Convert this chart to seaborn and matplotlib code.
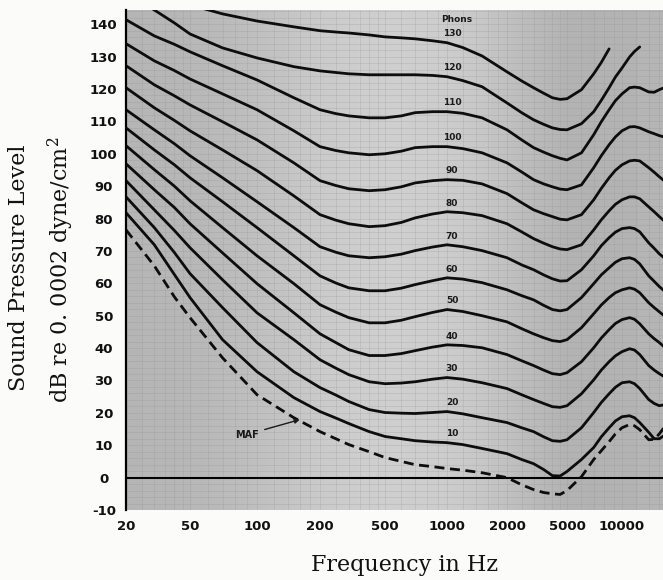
import numpy as np
import pandas as pd
import matplotlib
matplotlib.use("Agg")
import matplotlib.pyplot as plt
import seaborn as sns

# ---------------- data ----------------
FREQS = [20, 30, 40, 50, 70, 100, 150, 200, 250, 300, 400, 500, 600, 700, 850,
         1000, 1200, 1500, 2000, 2500, 3000, 3500, 4000, 4500, 5000, 6000, 7000,
         7700, 8500, 9200, 10000, 11000, 11700, 12500, 14000, 15000, 16000, 17000]
nan = np.nan
SPL_10 = [81.8, 71.9, 62.7, 55.6, 42.6, 32.7, 24.7, 20.4, 18.4, 16.7, 14.2, 12.7, 12.0, 11.4, 11.0,
          10.8, 10.2, 9.0, 7.4, 5.6, 4.3, 2.5, 0.6, 0.5, 1.9, 5.6, 9.3,
          12.6, 15.4, 17.5, 18.8, 19.1, 18.5, 17.0, 14.0, 12.0, 12.0, 13.0]
SPL_20 = [86.7, 77.2, 69.5, 63.0, 52.5, 41.7, 32.7, 27.8, 25.5, 23.5, 21.0, 20.1, 19.9, 19.8, 20.1,
          20.4, 19.7, 18.5, 17.0, 15.4, 14.2, 12.6, 11.4, 11.2, 11.7, 15.4, 20.1,
          23.2, 25.9, 27.9, 29.3, 29.6, 29.0, 27.5, 24.1, 22.9, 22.2, 22.5]
SPL_30 = [91.7, 82.7, 76.3, 71.0, 61.1, 50.9, 42.6, 36.4, 33.8, 31.8, 29.6, 29.0, 29.2, 29.6, 30.4,
          30.9, 30.4, 29.3, 27.5, 25.6, 24.1, 22.9, 21.9, 21.7, 22.2, 25.9, 30.2,
          33.2, 35.8, 37.6, 38.9, 39.8, 39.4, 38.0, 34.6, 33.2, 32.1, 31.2]
SPL_40 = [96.9, 88.9, 83.4, 78.4, 69.4, 59.9, 50.9, 44.4, 41.7, 39.5, 37.7, 37.7, 38.3, 39.2, 40.3,
          41.0, 40.8, 40.1, 38.0, 36.1, 34.6, 33.2, 32.1, 31.8, 32.4, 35.8, 40.1,
          43.1, 45.7, 47.6, 48.8, 49.4, 48.9, 47.5, 44.4, 42.9, 41.7, 40.4]
SPL_50 = [102.5, 95.1, 90.0, 85.5, 77.2, 68.5, 59.9, 53.4, 51.1, 49.4, 47.8, 47.8, 48.6, 49.7, 51.0,
          51.9, 51.3, 50.0, 48.1, 46.0, 44.4, 43.2, 42.3, 42.0, 42.6, 46.3, 50.6,
          53.3, 55.6, 57.1, 58.0, 58.6, 58.2, 57.1, 54.0, 52.5, 51.2, 50.0]
SPL_60 = [108.0, 101.2, 96.6, 92.6, 85.2, 77.2, 68.5, 62.3, 60.1, 58.6, 57.7, 57.7, 58.5, 59.6, 60.8,
          61.7, 61.3, 60.2, 58.0, 56.2, 54.9, 53.2, 51.9, 51.5, 51.9, 55.6, 59.9,
          62.6, 64.8, 66.5, 67.6, 67.9, 67.4, 66.0, 62.3, 60.6, 59.0, 57.7]
SPL_70 = [113.6, 107.4, 103.1, 99.4, 92.6, 85.2, 77.2, 71.3, 69.6, 68.5, 67.9, 68.2, 69.0, 70.1, 71.2,
          71.9, 71.3, 70.1, 67.9, 65.7, 64.2, 62.6, 61.4, 60.7, 60.8, 64.2, 68.5,
          71.6, 74.1, 75.8, 76.9, 77.2, 76.9, 75.9, 72.5, 70.8, 69.1, 67.9]
SPL_80 = [120.4, 114.2, 110.3, 107.1, 101.2, 94.8, 87.0, 81.2, 79.5, 78.4, 77.5, 77.8, 78.8, 80.2, 81.4,
          82.1, 81.8, 80.9, 78.4, 75.9, 73.8, 72.4, 71.3, 70.6, 70.4, 71.9, 76.5,
          79.6, 82.4, 84.4, 85.8, 86.7, 86.7, 86.1, 83.6, 82.1, 80.6, 79.3]
SPL_90 = [127.2, 121.3, 117.9, 115.1, 109.9, 104.3, 97.2, 91.7, 90.2, 89.2, 88.6, 88.9, 89.8, 91.0, 91.7,
          92.0, 91.8, 90.7, 87.7, 84.9, 82.7, 81.5, 80.6, 79.8, 79.6, 81.2, 85.8,
          89.3, 92.6, 94.9, 96.6, 97.8, 98.0, 97.8, 95.7, 94.3, 92.9, 91.7]
SPL_100 = [134.0, 128.7, 125.7, 123.1, 118.5, 113.6, 107.1, 102.2, 101.0, 100.3, 99.7, 100.0, 100.8, 101.9, 102.2,
           102.2, 101.6, 100.3, 97.2, 94.4, 92.0, 90.7, 89.8, 89.1, 88.9, 90.4, 95.7,
           99.4, 102.8, 105.2, 107.1, 108.3, 108.4, 108.0, 106.8, 106.2, 105.6, 105.2]
SPL_110 = [141.4, 136.4, 133.8, 131.5, 127.2, 122.8, 117.3, 113.6, 112.4, 111.7, 111.1, 111.1, 111.7, 112.7, 113.0,
           113.0, 112.5, 111.1, 107.4, 104.3, 101.9, 100.5, 99.4, 98.6, 98.1, 100.3, 105.9,
           109.9, 113.6, 116.4, 118.5, 120.4, 120.6, 120.4, 119.1, 119.0, 119.8, 120.4]
SPL_120 = [150.0, 144.4, 140.4, 137.0, 132.7, 129.6, 126.9, 125.6, 125.1, 124.7, 124.4, 124.4, 124.4, 124.4, 124.2,
           123.8, 122.6, 120.7, 115.7, 112.7, 110.5, 109.1, 108.0, 107.5, 107.4, 109.3, 113.0,
           116.5, 120.4, 123.7, 126.5, 129.9, 131.6, 133.0, nan, nan, nan, nan]
SPL_130 = [155.2, 150.6, 148.1, 146.0, 143.2, 141.0, 139.2, 138.0, 137.6, 137.3, 136.7, 136.1, 135.8, 135.5, 134.9,
           134.3, 132.8, 130.2, 125.3, 122.5, 120.4, 118.7, 117.3, 116.8, 117.0, 119.8, 124.7,
           128.2, 132.4, nan, nan, nan, nan, nan, nan, nan, nan, nan]
MAF = [76.5, 65.4, 55.8, 49.4, 37.0, 25.6, 18.5, 14.2, 12.0, 10.2, 8.0, 6.2, 5.0, 4.0, 3.4,
       2.8, 2.3, 1.5, 0.0, -2.2, -3.7, -4.6, -5.0, -5.2, -4.0, 0.3, 5.6,
       8.3, 11.1, 13.5, 15.4, 16.4, 16.0, 14.8, 11.7, 11.8, 13.5, 15.5]

PHONS = [10, 20, 30, 40, 50, 60, 70, 80, 90, 100, 110, 120, 130]
CURVES = [SPL_10, SPL_20, SPL_30, SPL_40, SPL_50, SPL_60, SPL_70, SPL_80, SPL_90,
          SPL_100, SPL_110, SPL_120, SPL_130]

X_TICKS = [20, 50, 100, 200, 500, 1000, 2000, 5000, 10000]
X_TICK_LABELS = ["20", "50", "100", "200", "500", "1000", "2000", "5000", "10000"]
Y_TICKS = list(range(-10, 141, 10))
Y_TICK_LABELS = [str(v) for v in Y_TICKS]

# ---------------- frequency axis: labels printed evenly like the original ----------------
_TICK_POS = np.array([126, 190, 257, 320, 385, 447, 507, 567, 622], float)
_LT = np.log10(np.array(X_TICKS, float))
_S0 = (_TICK_POS[1] - _TICK_POS[0]) / (_LT[1] - _LT[0])
_S1 = (_TICK_POS[-1] - _TICK_POS[-2]) / (_LT[-1] - _LT[-2])


def fwd(f):
    f = np.asarray(f, float)
    with np.errstate(divide="ignore", invalid="ignore"):
        lf = np.log10(np.where(f > 0, f, 1e-9))
    out = np.interp(lf, _LT, _TICK_POS)
    out = np.where(lf < _LT[0], _TICK_POS[0] + (lf - _LT[0]) * _S0, out)
    out = np.where(lf > _LT[-1], _TICK_POS[-1] + (lf - _LT[-1]) * _S1, out)
    return out


def inv(p):
    p = np.asarray(p, float)
    lf = np.interp(p, _TICK_POS, _LT)
    lf = np.where(p < _TICK_POS[0], _LT[0] + (p - _TICK_POS[0]) / _S0, lf)
    lf = np.where(p > _TICK_POS[-1], _LT[-1] + (p - _TICK_POS[-1]) / _S1, lf)
    return 10 ** lf


# ---------------- long-form frames ----------------
rows = []
for ph, vals in zip(PHONS, CURVES):
    for f, v in zip(FREQS, vals):
        if not np.isnan(v):
            rows.append({"freq": f, "spl": v, "phon": ph})
df = pd.DataFrame(rows)
df_maf = pd.DataFrame({"freq": FREQS, "spl": MAF})

# ---------------- figure ----------------
sns.set_theme(style="white")
plt.rcParams["font.family"] = ["DejaVu Sans"]
plt.rcParams["mathtext.fontset"] = "dejavuserif"

W, H = 663, 580
fig = plt.figure(figsize=(W / 100, H / 100), dpi=100)
fig.patch.set_facecolor("#fbfbfa")
ax = fig.add_axes([126 / W, 1 - 510 / H, (W - 126) / W, 500 / H])

# graph-paper like grey background (darker at the sides)
grad = np.array([[0.71, 0.72, 0.75, 0.79, 0.81, 0.81, 0.79, 0.73, 0.69, 0.71]])
ax.imshow(grad, extent=(0, 1, 0, 1), transform=ax.transAxes, cmap="gray",
          vmin=0, vmax=1, aspect="auto", interpolation="bicubic", zorder=0)

sns.lineplot(data=df, x="freq", y="spl", units="phon", estimator=None,
             color="#0d0d0d", linewidth=2.0, sort=False, ax=ax, legend=False, zorder=3)
sns.lineplot(data=df_maf, x="freq", y="spl", color="#0d0d0d", linewidth=2.0,
             sort=False, ax=ax, legend=False, zorder=3)
ax.lines[-1].set_dashes((3.6, 2.0))
for ln in ax.lines:
    ln.set_solid_joinstyle("round")
    ln.set_solid_capstyle("round")

ax.axhline(0, color="black", lw=1.5, zorder=2)

ax.set_xscale("function", functions=(fwd, inv))
ax.set_xlim(20, 16760)
ax.set_ylim(-10, 144.4)

ax.set_xticks(X_TICKS)
ax.set_xticklabels(X_TICK_LABELS)
ax.set_yticks(Y_TICKS)
ax.set_yticklabels(Y_TICK_LABELS)

# faint graph-paper rulings
ax.xaxis.set_minor_locator(matplotlib.ticker.FixedLocator(
    [25, 30, 35, 40, 45, 60, 70, 80, 90, 120, 140, 160, 180, 250, 300, 350, 400, 450,
     600, 700, 800, 900, 1200, 1400, 1600, 1800, 2500, 3000, 3500, 4000, 4500,
     6000, 7000, 8000, 9000, 12000, 14000, 16000]))
ax.yaxis.set_minor_locator(matplotlib.ticker.MultipleLocator(2))
ax.grid(which="both", color="#8f8f8f", lw=0.45, alpha=0.35, zorder=1)
ax.set_axisbelow(True)

ax.tick_params(axis="both", which="both", length=0, labelsize=9.5)
ax.tick_params(axis="x", pad=7)
ax.tick_params(axis="y", pad=16)
for lab in ax.get_xticklabels() + ax.get_yticklabels():
    lab.set_fontweight("bold")
    lab.set_color("#111111")
for lab in ax.get_yticklabels():
    lab.set_horizontalalignment("center")

ax.set_xlabel("")
ax.set_ylabel("")
for s in ["top", "right", "bottom"]:
    ax.spines[s].set_visible(False)
ax.spines["left"].set_color("black")
ax.spines["left"].set_linewidth(1.6)
ax.spines["left"].set_zorder(4)

# phon labels near 1000 Hz
i1k = FREQS.index(1000)
for ph, vals in zip(PHONS, CURVES):
    ax.text(1060, vals[i1k] + 2.7, str(ph), ha="center", va="center",
            fontsize=6.5, fontweight="bold", color="#1a1a1a", zorder=5)
ax.text(1120, SPL_130[i1k] + 7.3, "Phons", ha="center", va="center",
        fontsize=6.5, fontweight="bold", color="#1a1a1a", zorder=5)

ax.annotate("MAF", xy=(160, 17.9), xytext=(90, 13.3), ha="center", va="center",
            fontsize=7, fontweight="bold", color="#1a1a1a",
            arrowprops=dict(arrowstyle="-|>", color="#1a1a1a", lw=1.0,
                            mutation_scale=7, shrinkA=2, shrinkB=0), zorder=5)

# axis titles (typewriter-like serif)
serif = ["DejaVu Serif"]
fig.text(405 / W, 1 - 565 / H, "Frequency in Hz", ha="center", va="center",
         family=serif, fontsize=16, color="#111111")
fig.text(19 / W, 1 - 268 / H, "Sound Pressure Level", ha="center", va="center",
         rotation=90, family=serif, fontsize=16, color="#111111")
fig.text(61 / W, 1 - 270 / H, "dB re 0. 0002 dyne/cm$^2$", ha="center", va="center",
         rotation=90, family=serif, fontsize=16, color="#111111")

fig.savefig("out.png", dpi=100, facecolor=fig.get_facecolor())
